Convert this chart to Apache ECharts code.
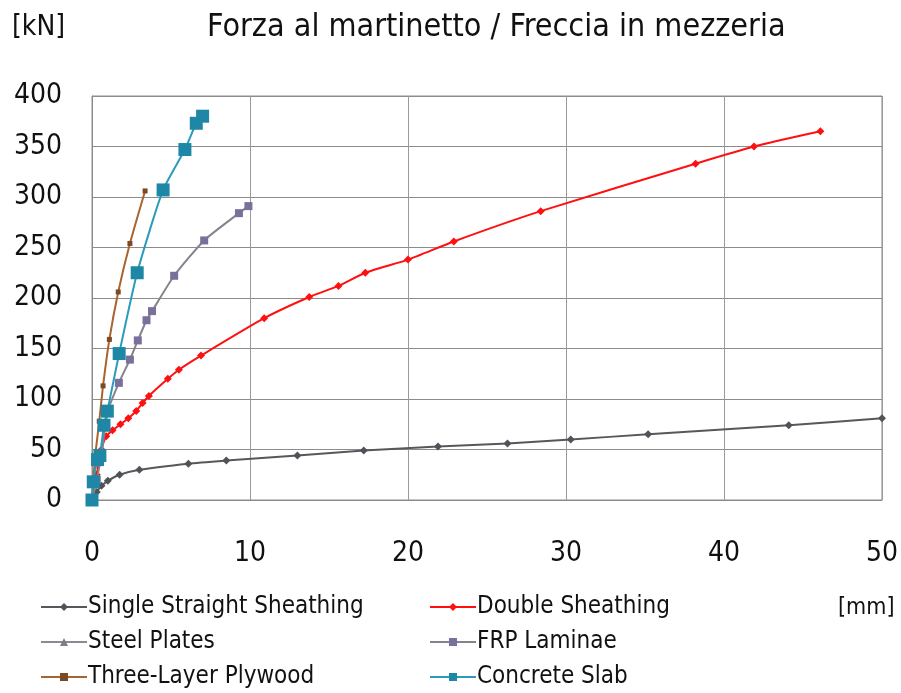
<!DOCTYPE html>
<html>
<head>
<meta charset="utf-8">
<script src="https://cdn.jsdelivr.net/npm/echarts@6/dist/echarts.min.js"></script>
<style>
  html, body { margin: 0; padding: 0; background: #fff; }
  #chart { width: 901px; height: 693px; }
</style>
</head>
<body>
<div id="chart"></div>
<script>
// Load test: jack force [kN] versus midspan deflection [mm]
const seriesNames = [
  'Single Straight Sheathing', 'Double Sheathing',
  'Steel Plates', 'FRP Laminae',
  'Three-Layer Plywood', 'Concrete Slab'
];

// [deflection mm, force kN]
const singleStraight = [[0,0],[0.3,8],[0.6,14],[1.0,19],[1.75,25],[3.0,30],[6.1,36],[8.5,39],[13.0,44],[17.2,49],[21.9,53],[26.3,56],[30.3,60],[35.2,65],[44.1,74],[50,81]];
const doubleSheathing = [[0,0],[0.3,25],[0.6,50],[0.9,63],[1.3,69],[1.8,75],[2.3,81],[2.8,88],[3.2,96],[3.6,103],[4.8,120],[5.5,129],[6.9,143],[10.9,180],[13.75,201],[15.6,212],[17.3,225],[20.0,238],[22.9,256],[28.4,286],[38.2,333],[41.9,350],[46.1,365]];
const steelPlates = [];
const frpLaminae = [[0,0],[0.3,20],[0.6,45],[1.0,88],[1.7,116],[2.4,139],[2.9,158],[3.45,178],[3.8,187],[5.2,222],[7.1,257],[9.3,284],[9.9,291]];
const threeLayer = [[0,0],[0.2,43],[0.46,78],[0.7,113],[1.1,159],[1.66,206],[2.4,254],[3.36,306]];
const concreteSlab = [[0,0],[0.08,18],[0.35,40],[0.5,44],[0.76,74],[0.97,88],[1.72,145],[2.86,225],[4.5,307],[5.88,347],[6.6,373],[7.0,380]];

const xTicks = [0, 10, 20, 30, 40, 50];
const yTicks = [0, 50, 100, 150, 200, 250, 300, 350, 400];

const FONT = '"DejaVu Sans Condensed", "Liberation Sans", sans-serif';

const styles = [
  { data: singleStraight, color: '#505356', line: '#55585c', symbol: 'diamond', size: 8, width: 2 },
  { data: doubleSheathing, color: '#ff1010', line: '#ff1010', symbol: 'diamond', size: 8, width: 2 },
  { data: steelPlates, color: '#7d7d86', line: '#8a8a90', symbol: 'triangle', size: 8, width: 2 },
  { data: frpLaminae, color: '#7b6f9c', line: '#85838c', symbol: 'rect', size: 8, width: 2 },
  { data: threeLayer, color: '#7a4a26', line: '#a8642e', symbol: 'rect', size: 5, width: 2 },
  { data: concreteSlab, color: '#1f87a6', line: '#2b9bbb', symbol: 'rect', size: 13, width: 2 }
];

const series = seriesNames.map((name, i) => ({
  name: name,
  type: 'line',
  data: styles[i].data,
  symbol: styles[i].symbol,
  symbolSize: styles[i].size,
  showAllSymbol: true,
  smooth: 0.2,
  lineStyle: { color: styles[i].line, width: styles[i].width },
  itemStyle: { color: styles[i].color },
  emphasis: { disabled: true },
  z: 2 + i
}));

const legendCommon = {
  orient: 'vertical',
  top: 595,
  height: 120,
  padding: 0,
  itemWidth: 46,
  itemHeight: 10,
  itemGap: 11,
  textStyle: { fontFamily: FONT, fontSize: 24, color: '#111', padding: [0, 0, 0, -4] },
  selectedMode: false
};

const chart = echarts.init(document.getElementById('chart'), null, { renderer: 'canvas' });
chart.setOption({
  backgroundColor: '#ffffff',
  animation: false,
  title: {
    text: 'Forza al martinetto / Freccia in mezzeria',
    left: 207, top: 12, padding: 0,
    textStyle: { fontFamily: FONT, fontSize: 32, fontWeight: 'normal', color: '#111' }
  },
  legend: [
    Object.assign({}, legendCommon, { left: 40, data: [seriesNames[0], seriesNames[2], seriesNames[4]] }),
    Object.assign({}, legendCommon, { left: 429, data: [seriesNames[1], seriesNames[3], seriesNames[5]] })
  ],
  graphic: [
    { type: 'text', left: 12, top: 14, style: { text: '[kN]', font: '28px ' + FONT, fill: '#111' } },
    { type: 'text', left: 838, top: 597, style: { text: '[mm]', font: '23px ' + FONT, fill: '#111' } }
  ],
  grid: { left: 92, right: 16, top: 96, bottom: 193, show: true, borderColor: '#8c8c8c', borderWidth: 1 },
  xAxis: {
    type: 'value', min: xTicks[0], max: xTicks[xTicks.length - 1], interval: 10,
    axisLine: { show: true, lineStyle: { color: '#8c8c8c', width: 1 } },
    axisTick: { show: false },
    splitLine: { show: true, lineStyle: { color: '#9a9a9a', width: 1 } },
    axisLabel: { margin: 40, fontFamily: FONT, fontSize: 28, color: '#111' }
  },
  yAxis: {
    type: 'value', min: yTicks[0], max: yTicks[yTicks.length - 1], interval: 50,
    axisLine: { show: true, lineStyle: { color: '#8c8c8c', width: 1 } },
    axisTick: { show: false },
    splitLine: { show: true, lineStyle: { color: '#8c8c8c', width: 1 } },
    axisLabel: { margin: 30, fontFamily: FONT, fontSize: 28, color: '#111' }
  },
  series: series
});
</script>
</body>
</html>
